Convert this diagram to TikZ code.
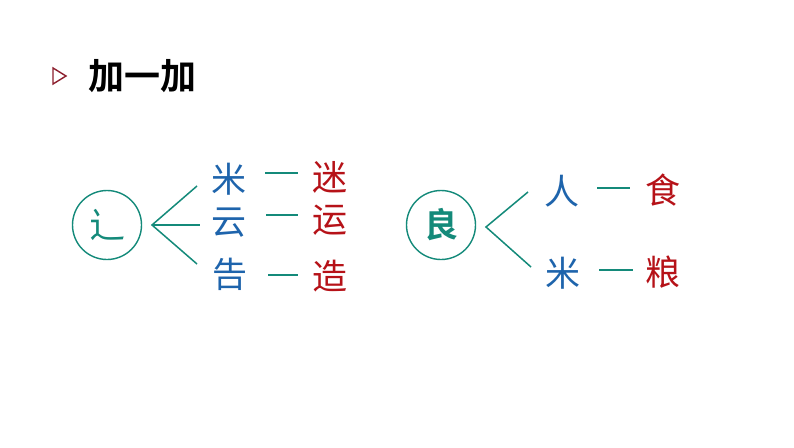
\documentclass[tikz,border=0pt]{standalone}
\usepackage{fontspec}
\newfontfamily\cjk{Noto Sans CJK SC}
\newfontfamily\cjkb{Noto Sans CJK SC Bold}
\definecolor{teal1}{RGB}{20,138,122}
\definecolor{blue1}{RGB}{30,100,172}
\definecolor{red1}{RGB}{182,18,24}
\definecolor{tri}{RGB}{140,30,45}
\begin{document}
\begin{tikzpicture}[x=1pt,y=-1pt,
  ring/.style={draw=teal1,line width=1.4pt,circle,minimum size=69pt,inner sep=0pt,text=teal1,font=\cjk\fontsize{36}{36}\selectfont},
  ringb/.style={ring,font=\cjkb\fontsize{34}{34}\selectfont},
  part/.style={text=blue1,inner sep=0pt,font=\cjk\fontsize{35}{35}\selectfont},
  whole/.style={text=red1,inner sep=0pt,font=\cjk\fontsize{35}{35}\selectfont},
  branch/.style={draw=teal1,line width=1.5pt},
  dashln/.style={draw=teal1,line width=1.5pt}]
\useasboundingbox (0,0) rectangle (794,447);
\fill[white] (0,0) rectangle (794,447);
% title
\coordinate (t1) at (53,68); \coordinate (t2) at (53,84); \coordinate (t3) at (66,76);
\draw[tri,line width=1.4pt,line join=miter] (t1) -- (t2) -- (t3) -- cycle;
\node[inner sep=0pt,anchor=west,font=\cjkb\fontsize{36}{36}\selectfont] (title) at (88,76) {加一加};
% left group
\node[ring] (c1) at (107,225) {辶};
\coordinate (a1) at (152,225);
\coordinate (e1) at (197,186);
\coordinate (e2) at (200,225);
\coordinate (e3) at (197,264);
\draw[branch] (e1) -- (a1) -- (e3);
\draw[branch] (a1) -- (e2);
\node[part] (p1) at (229,179) {米};
\node[part] (p2) at (229,223) {云};
\node[part] (p3) at (230,274) {告};
\coordinate (d1a) at (265,173); \coordinate (d1b) at (298,173);
\coordinate (d2a) at (266,215); \coordinate (d2b) at (298,215);
\coordinate (d3a) at (268,275); \coordinate (d3b) at (298,275);
\draw[dashln] (d1a) -- (d1b);
\draw[dashln] (d2a) -- (d2b);
\draw[dashln] (d3a) -- (d3b);
\node[whole] (w1) at (330,177) {迷};
\node[whole] (w2) at (330,220) {运};
\node[whole] (w3) at (330,276) {造};
% right group
\node[ringb] (c2) at (441,225) {良};
\coordinate (a2) at (486,227);
\coordinate (f1) at (528,192);
\coordinate (f2) at (531,267);
\draw[branch] (f1) -- (a2) -- (f2);
\node[part] (q1) at (562,191) {人};
\node[part] (q2) at (563,273) {米};
\coordinate (g1a) at (597,188); \coordinate (g1b) at (630,188);
\coordinate (g2a) at (599,270); \coordinate (g2b) at (633,270);
\draw[dashln] (g1a) -- (g1b);
\draw[dashln] (g2a) -- (g2b);
\node[whole] (v1) at (663,190) {食};
\node[whole] (v2) at (663,272) {粮};
\end{tikzpicture}
\end{document}
